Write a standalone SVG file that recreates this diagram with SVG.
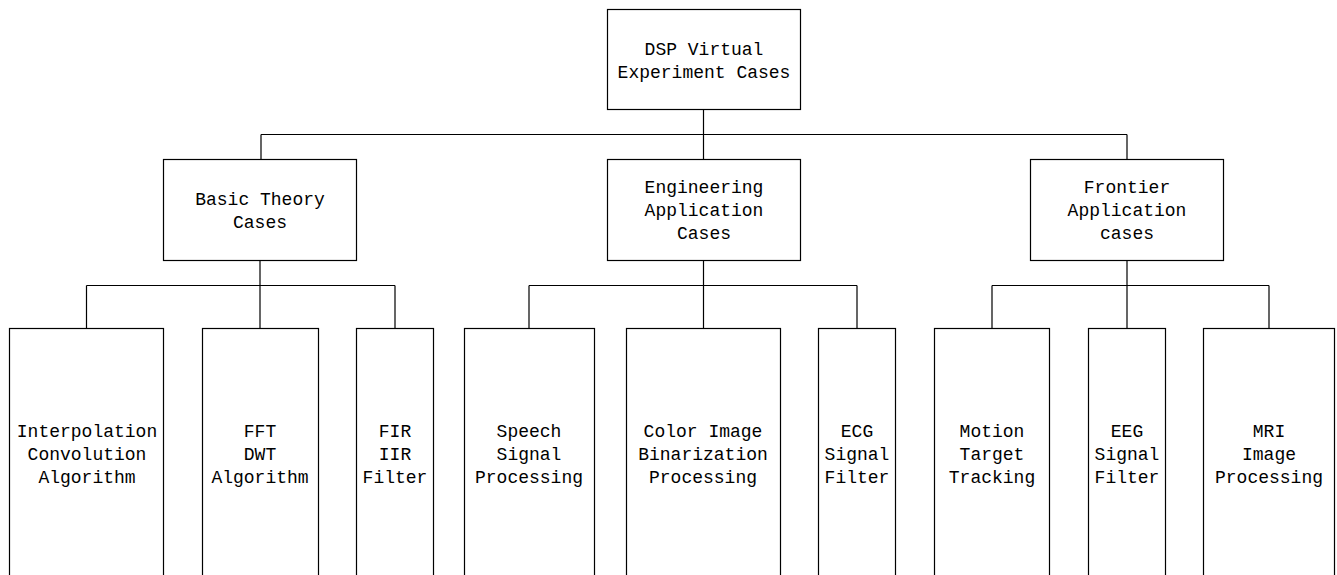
<svg xmlns="http://www.w3.org/2000/svg" width="1337" height="575" viewBox="0 0 1337 575">
<style>
.box{fill:#fff;stroke:#000;stroke-width:1.2}
.con{fill:none;stroke:#000;stroke-width:1.2}
text{font-family:"Liberation Mono","DejaVu Sans Mono",monospace;font-size:18px;fill:#000;text-anchor:middle}
</style>
<rect x="0" y="0" width="1337" height="575" fill="#fff"/>
<g id="connectors">
<path class="con" d="M703.5 109V134.5M261 134.5H1127M261 134.5V159M703.5 134.5V159M1127 134.5V159"/>
<path class="con" d="M260 260V285.5M86.5 285.5H395M86.5 285.5V328M260 285.5V328M395 285.5V328"/>
<path class="con" d="M703.5 260V285.5M529 285.5H857M529 285.5V328M703.5 285.5V328M857 285.5V328"/>
<path class="con" d="M1127 260V285.5M992 285.5H1269M992 285.5V328M1127 285.5V328M1269 285.5V328"/>
</g>
<g id="root"><rect class="box" x="607.5" y="9.5" width="193" height="100"/><text x="704" y="55">DSP Virtual</text><text x="704" y="78">Experiment Cases</text></g>
<g id="basic"><rect class="box" x="163.5" y="159.5" width="193" height="101"/><text x="260" y="205">Basic Theory</text><text x="260" y="228">Cases</text></g>
<g id="engineering"><rect class="box" x="607.5" y="159.5" width="193" height="101"/><text x="704" y="193">Engineering</text><text x="704" y="216">Application</text><text x="704" y="239">Cases</text></g>
<g id="frontier"><rect class="box" x="1030.5" y="159.5" width="193" height="101"/><text x="1127" y="193">Frontier</text><text x="1127" y="216">Application</text><text x="1127" y="239">cases</text></g>
<g id="interp"><rect class="box" x="9.5" y="328.5" width="154" height="260"/><text x="87" y="437">Interpolation</text><text x="87" y="460">Convolution</text><text x="87" y="483">Algorithm</text></g>
<g id="fft"><rect class="box" x="202.5" y="328.5" width="116" height="260"/><text x="260" y="437">FFT</text><text x="260" y="460">DWT</text><text x="260" y="483">Algorithm</text></g>
<g id="fir"><rect class="box" x="356.5" y="328.5" width="77" height="260"/><text x="395" y="437">FIR</text><text x="395" y="460">IIR</text><text x="395" y="483">Filter</text></g>
<g id="speech"><rect class="box" x="464.5" y="328.5" width="130" height="260"/><text x="529" y="437">Speech</text><text x="529" y="460">Signal</text><text x="529" y="483">Processing</text></g>
<g id="color"><rect class="box" x="626.5" y="328.5" width="154" height="260"/><text x="703" y="437">Color Image</text><text x="703" y="460">Binarization</text><text x="703" y="483">Processing</text></g>
<g id="ecg"><rect class="box" x="818.5" y="328.5" width="77" height="260"/><text x="857" y="437">ECG</text><text x="857" y="460">Signal</text><text x="857" y="483">Filter</text></g>
<g id="motion"><rect class="box" x="934.5" y="328.5" width="115" height="260"/><text x="992" y="437">Motion</text><text x="992" y="460">Target</text><text x="992" y="483">Tracking</text></g>
<g id="eeg"><rect class="box" x="1088.5" y="328.5" width="77" height="260"/><text x="1127" y="437">EEG</text><text x="1127" y="460">Signal</text><text x="1127" y="483">Filter</text></g>
<g id="mri"><rect class="box" x="1203.5" y="328.5" width="131" height="260"/><text x="1269" y="437">MRI</text><text x="1269" y="460">Image</text><text x="1269" y="483">Processing</text></g>
</svg>
